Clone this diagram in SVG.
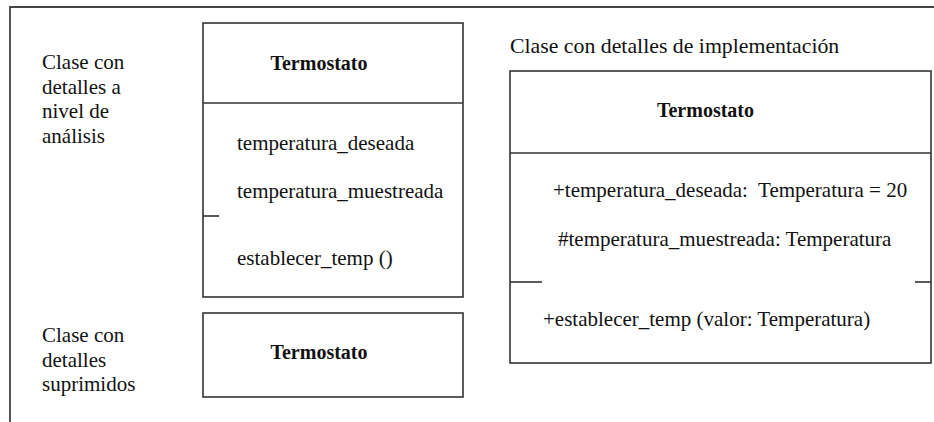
<svg xmlns="http://www.w3.org/2000/svg" width="934" height="422" viewBox="0 0 934 422">
<style>
.t { font-size: 21px; }
.h { font-size: 20px; font-weight: bold; text-anchor: middle; }
.box { fill: none; stroke: #333; stroke-width: 1.6; }
.ln { stroke: #333; stroke-width: 1.6; fill: none; }
.frame { stroke: #444; stroke-width: 1.8; fill: none; }
</style>
<rect width="934" height="422" fill="#fff"/>
<g id="frame">
<polyline class="frame" points="10,422 10,7 934,7"/>
</g>
<g font-family="'Liberation Serif', 'Times New Roman', Times, serif" fill="#111">
<g id="labels">
<text class="t" x="42" y="69">Clase con</text>
<text class="t" x="42" y="93.5">detalles a</text>
<text class="t" x="42" y="118">nivel de</text>
<text class="t" x="42" y="143">análisis</text>
<text class="t" x="42" y="342">Clase con</text>
<text class="t" x="42" y="366.5">detalles</text>
<text class="t" x="42" y="391">suprimidos</text>
<text class="t" x="510" y="53" style="font-size:21.8px">Clase con detalles de implementación</text>
</g>
<g id="clase-analisis">
<rect class="box" x="203" y="23" width="260" height="274"/>
<line class="ln" x1="203" y1="103" x2="463" y2="103"/>
<line class="ln" x1="203" y1="216" x2="219" y2="216"/>
<text class="h" x="319" y="70">Termostato</text>
<text class="t" x="237" y="150">temperatura_deseada</text>
<text class="t" x="237" y="198">temperatura_muestreada</text>
<text class="t" x="237" y="265">establecer_temp ()</text>
</g>
<g id="clase-suprimida">
<rect class="box" x="203" y="313" width="260" height="84"/>
<text class="h" x="319" y="359">Termostato</text>
</g>
<g id="clase-implementacion">
<rect class="box" x="510" y="71" width="421" height="292"/>
<line class="ln" x1="510" y1="153" x2="931" y2="153"/>
<line class="ln" x1="510" y1="282" x2="542" y2="282"/>
<line class="ln" x1="915" y1="282" x2="931" y2="282"/>
<text class="h" x="705.5" y="117">Termostato</text>
<text class="t" x="553" y="197" xml:space="preserve">+temperatura_deseada:  Temperatura = 20</text>
<text class="t" x="558" y="246">#temperatura_muestreada: Temperatura</text>
<text class="t" x="543" y="326">+establecer_temp (valor: Temperatura)</text>
</g>
</g>
<g id="connectors"></g>
</svg>
